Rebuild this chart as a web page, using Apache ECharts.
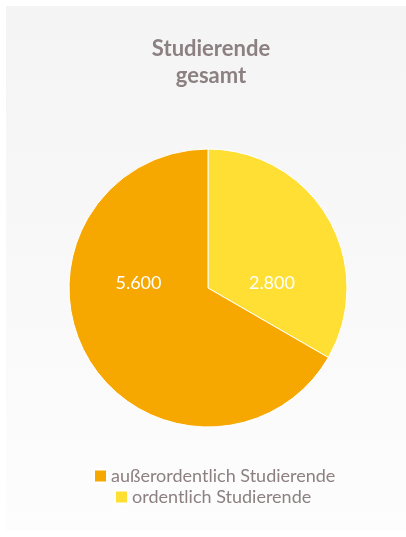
<!DOCTYPE html>
<html>
<head>
<meta charset="utf-8">
<script src="https://cdn.jsdelivr.net/npm/echarts@6/dist/echarts.min.js"></script>
<style>
html,body{margin:0;padding:0;background:#fff;}
#panel{position:absolute;left:6px;top:6px;width:400px;height:525px;background:linear-gradient(#f4f4f4,#fdfdfd);}
#chart{position:absolute;left:0;top:0;width:406px;height:537px;}
</style>
</head>
<body>
<div id="panel"></div>
<div id="chart"></div>
<script>
const titleText = 'Studierende\ngesamt';
const categories = ['ordentlich Studierende', 'außerordentlich Studierende'];
const values = [2800, 5600];
const colors = ['#ffdf33', '#f6a800'];
const legendOrder = ['außerordentlich Studierende', 'ordentlich Studierende'];

const FONT = 'Lato';
const TXT = '#8c8082';
const cx = 208, cy = 288, R = 139;

const chart = echarts.init(document.getElementById('chart'), null, {renderer: 'canvas'});
const fmt = v => v.toLocaleString('de-DE');
chart.setOption({
  backgroundColor: 'transparent',
  animation: false,
  title: {
    text: titleText, left: 206, top: 30, textAlign: 'center',
    textStyle: {fontFamily: FONT, fontWeight: 'bold', fontSize: 22, color: TXT, lineHeight: 27, align: 'center'}
  },
  legend: [
    {data: [legendOrder[0]], left: 88, top: 462, itemWidth: 13, itemHeight: 13, icon: 'rect', itemGap: 4,
     textStyle: {fontFamily: FONT, fontSize: 18, color: TXT, padding: [0, 0, 0, -1]}},
    {data: [legendOrder[1]], left: 109, top: 483, itemWidth: 13, itemHeight: 13, icon: 'rect', itemGap: 4,
     textStyle: {fontFamily: FONT, fontSize: 18, color: TXT, padding: [0, 0, 0, -1]}}
  ],
  series: [{
    type: 'pie',
    center: [cx, cy], radius: R,
    startAngle: 90, clockwise: true,
    itemStyle: {borderColor: '#fff', borderWidth: 1},
    label: {show: true, position: 'inside', color: '#fff', fontFamily: FONT, fontSize: 18,
      formatter: p => fmt(p.value)},
    labelLayout: p => ({x: cx + (p.dataIndex === 0 ? 0.46 : -0.5) * R, y: cy - 5, align: 'center', verticalAlign: 'middle'}),
    emphasis: {disabled: true},
    data: categories.map((c, i) => ({name: c, value: values[i], itemStyle: {color: colors[i]}}))
  }]
});
</script>
</body>
</html>
